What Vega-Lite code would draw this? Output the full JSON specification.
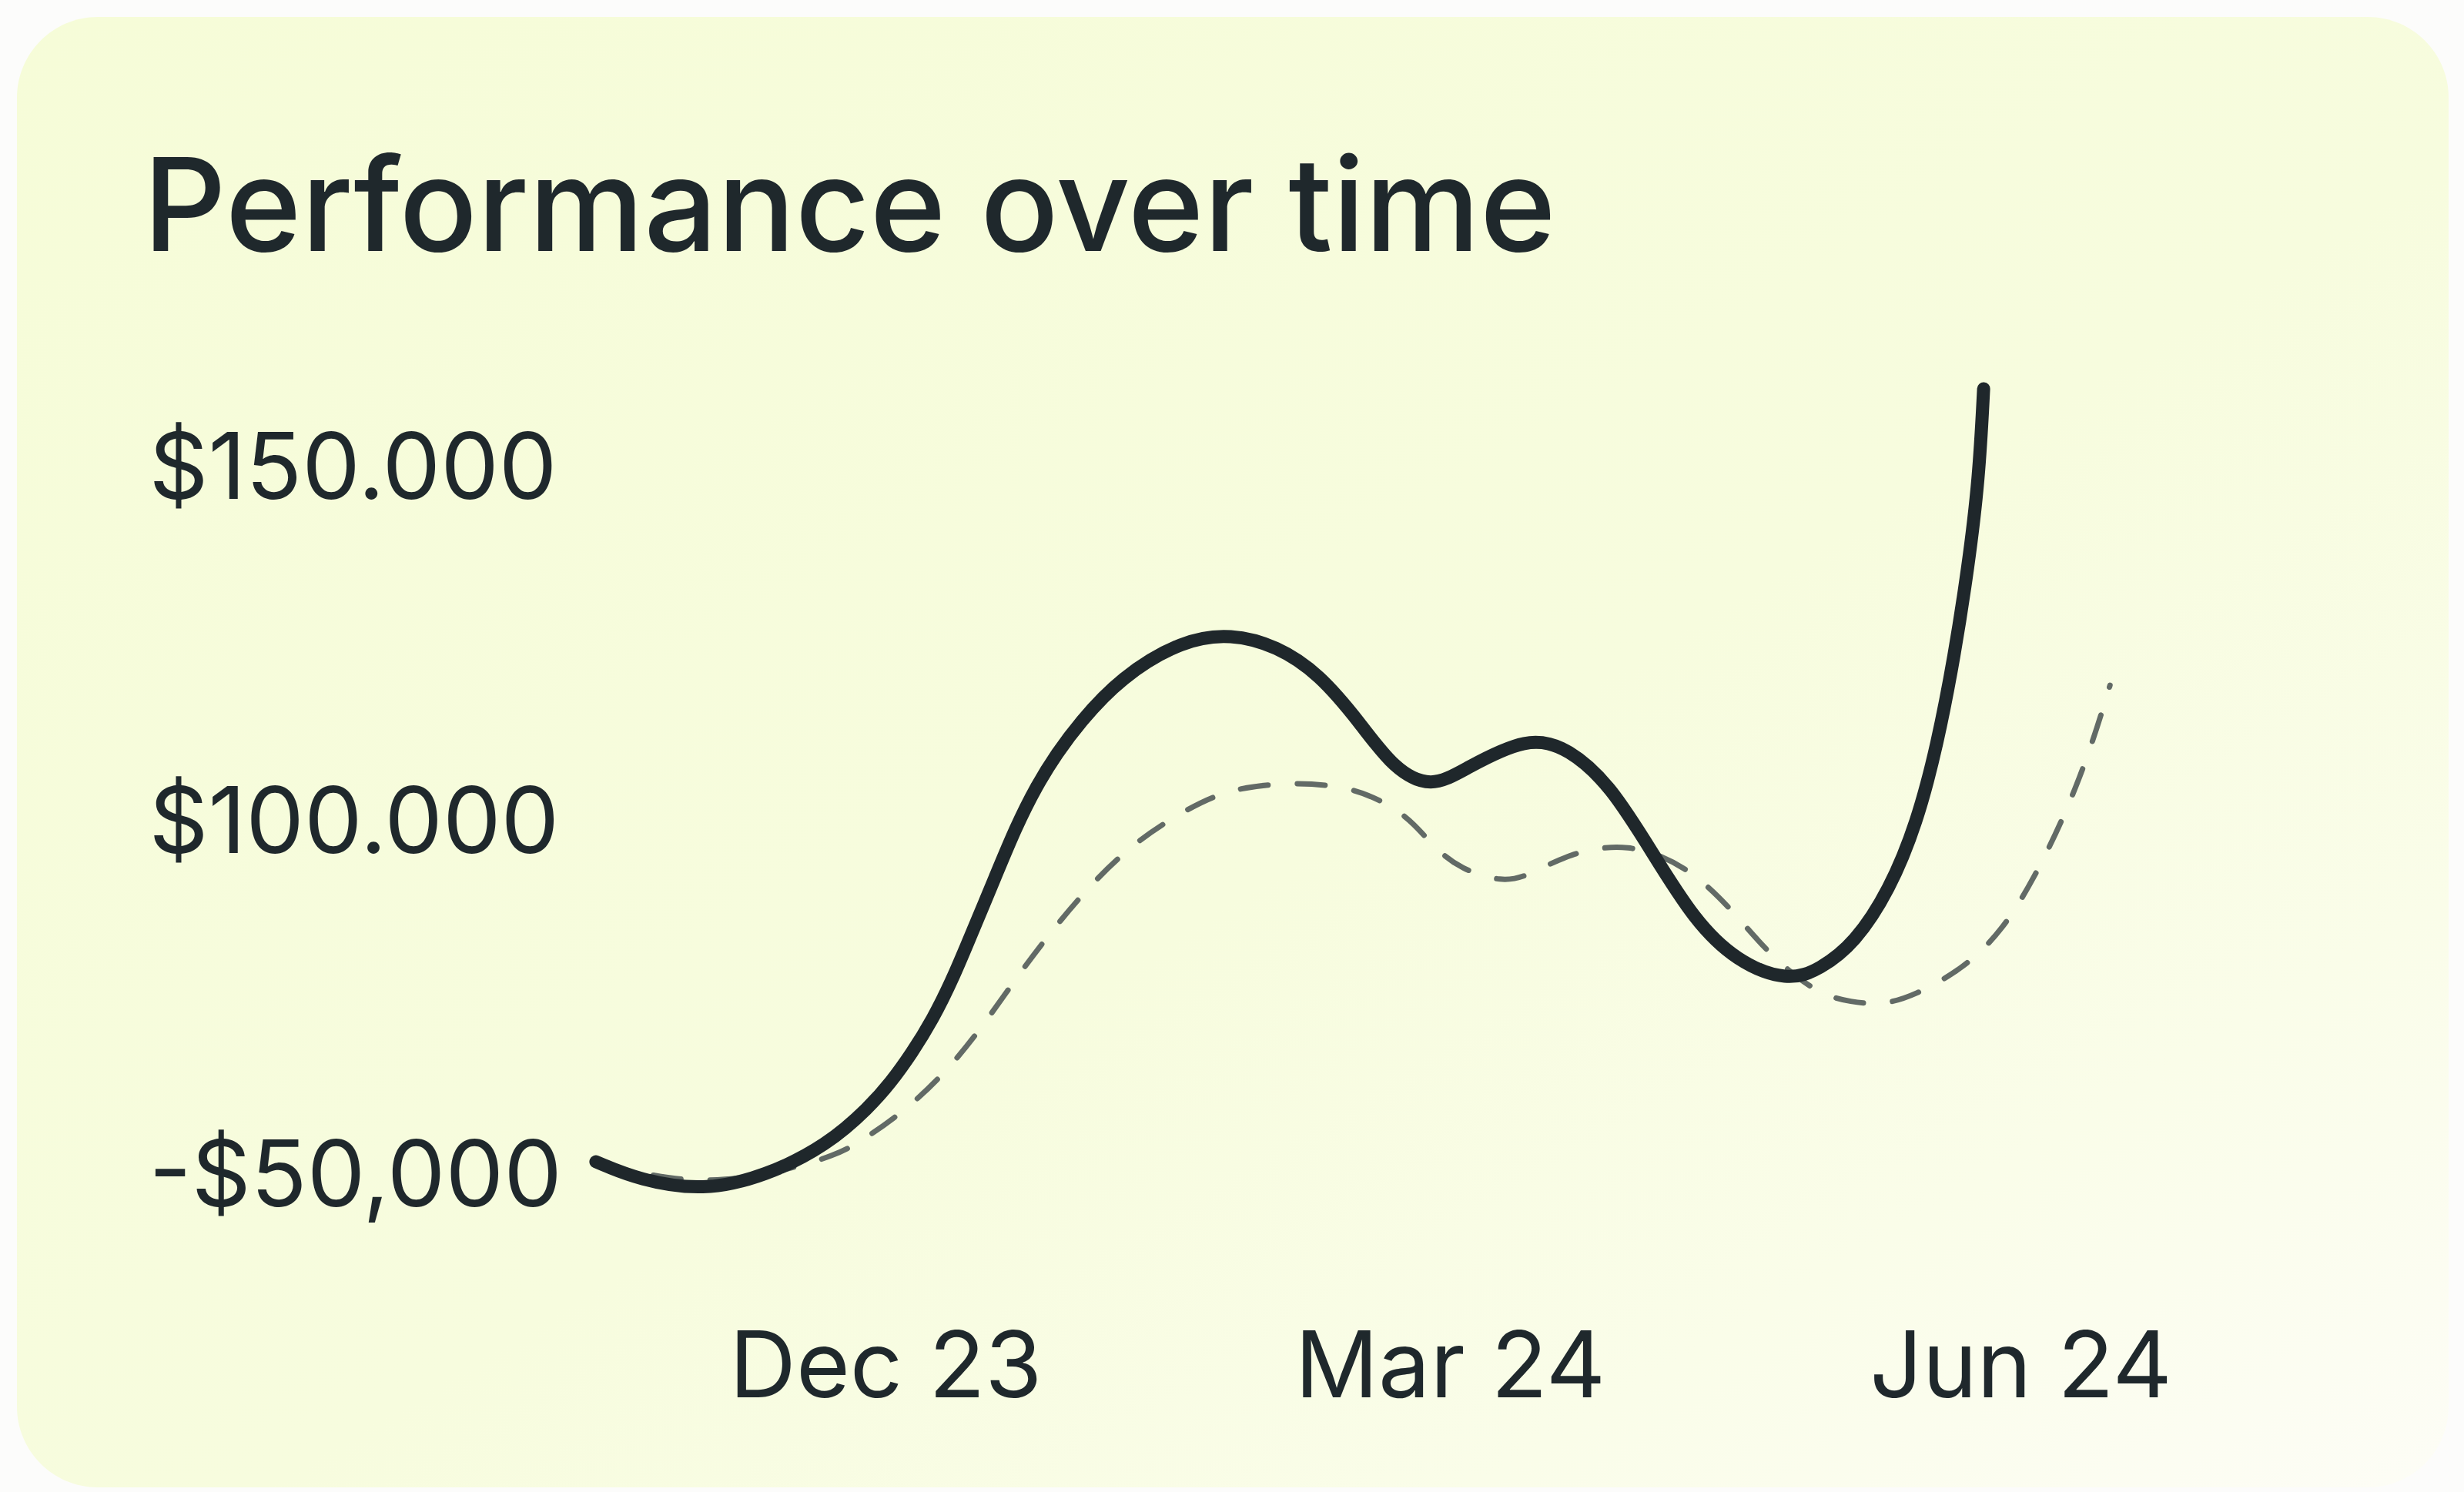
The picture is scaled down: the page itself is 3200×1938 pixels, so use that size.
{
  "$schema": "https://vega.github.io/schema/vega-lite/v6.json",
  "width": 3158,
  "height": 1910,
  "autosize": {"type": "none"},
  "padding": {"left": 22, "top": 22, "right": 20, "bottom": 6},
  "background": "#FCFCFB",
  "title": {
    "text": "Performance over time",
    "anchor": "start",
    "frame": "group",
    "font": "Inter",
    "fontSize": 168,
    "fontWeight": 500,
    "color": "#1F282C",
    "baseline": "alphabetic",
    "offset": -472,
    "dx": 164,
    "limit": 0
  },
  "config": {
    "view": {
      "fill": {
        "gradient": "linear",
        "x1": 0, "y1": 0, "x2": 1, "y2": 1,
        "stops": [
          {"offset": 0, "color": "#F6FCD8"},
          {"offset": 0.55, "color": "#F7FCDE"},
          {"offset": 0.8, "color": "#FAFDE9"},
          {"offset": 1, "color": "#FDFDF6"}
        ]
      },
      "stroke": null,
      "cornerRadius": 105
    },
    "axis": {
      "grid": false,
      "domain": false,
      "ticks": false,
      "tickSize": 0,
      "title": null,
      "labelFont": "Inter",
      "labelFontSize": 120,
      "labelColor": "#1F282C",
      "labelLimit": 0,
      "labelOverlap": false
    }
  },
  "data": {
    "values": [
      {"series": "Benchmark", "date": "2023-10-15T14:00:00Z", "value": 51194},
      {"series": "Benchmark", "date": "2023-10-27T21:00:00Z", "value": 48909},
      {"series": "Benchmark", "date": "2023-11-04T23:00:00Z", "value": 48800},
      {"series": "Benchmark", "date": "2023-11-14T00:00:00Z", "value": 50106},
      {"series": "Benchmark", "date": "2023-11-23T02:00:00Z", "value": 52391},
      {"series": "Benchmark", "date": "2023-11-27T19:00:00Z", "value": 54784},
      {"series": "Benchmark", "date": "2023-12-05T06:00:00Z", "value": 59462},
      {"series": "Benchmark", "date": "2023-12-11T23:00:00Z", "value": 65337},
      {"series": "Benchmark", "date": "2023-12-17T16:00:00Z", "value": 71865},
      {"series": "Benchmark", "date": "2023-12-23T00:00:00Z", "value": 78611},
      {"series": "Benchmark", "date": "2023-12-28T17:00:00Z", "value": 85138},
      {"series": "Benchmark", "date": "2024-01-03T19:00:00Z", "value": 91340},
      {"series": "Benchmark", "date": "2024-01-10T12:00:00Z", "value": 96888},
      {"series": "Benchmark", "date": "2024-01-18T13:00:00Z", "value": 101349},
      {"series": "Benchmark", "date": "2024-01-25T15:00:00Z", "value": 104286},
      {"series": "Benchmark", "date": "2024-02-04T05:00:00Z", "value": 105157},
      {"series": "Benchmark", "date": "2024-02-13T15:00:00Z", "value": 104613},
      {"series": "Benchmark", "date": "2024-02-20T08:00:00Z", "value": 102002},
      {"series": "Benchmark", "date": "2024-02-24T07:00:00Z", "value": 99282},
      {"series": "Benchmark", "date": "2024-02-27T15:00:00Z", "value": 95800},
      {"series": "Benchmark", "date": "2024-03-02T18:00:00Z", "value": 92863},
      {"series": "Benchmark", "date": "2024-03-09T11:00:00Z", "value": 91013},
      {"series": "Benchmark", "date": "2024-03-13T13:00:00Z", "value": 91884},
      {"series": "Benchmark", "date": "2024-03-20T06:00:00Z", "value": 95148},
      {"series": "Benchmark", "date": "2024-03-29T17:00:00Z", "value": 96671},
      {"series": "Benchmark", "date": "2024-04-08T03:00:00Z", "value": 93407},
      {"series": "Benchmark", "date": "2024-04-15T11:00:00Z", "value": 87205},
      {"series": "Benchmark", "date": "2024-04-21T13:00:00Z", "value": 80678},
      {"series": "Benchmark", "date": "2024-04-29T05:00:00Z", "value": 75238},
      {"series": "Benchmark", "date": "2024-05-04T17:00:00Z", "value": 74041},
      {"series": "Benchmark", "date": "2024-05-09T19:00:00Z", "value": 73715},
      {"series": "Benchmark", "date": "2024-05-14T18:00:00Z", "value": 74911},
      {"series": "Benchmark", "date": "2024-05-23T01:00:00Z", "value": 78937},
      {"series": "Benchmark", "date": "2024-05-29T03:00:00Z", "value": 84268},
      {"series": "Benchmark", "date": "2024-06-03T03:00:00Z", "value": 91448},
      {"series": "Benchmark", "date": "2024-06-08T08:00:00Z", "value": 100805},
      {"series": "Benchmark", "date": "2024-06-12T13:00:00Z", "value": 110488},
      {"series": "Benchmark", "date": "2024-06-15T10:00:00Z", "value": 118865},
      {"series": "Portfolio", "date": "2023-10-15T08:00:00Z", "value": 51520},
      {"series": "Portfolio", "date": "2023-10-22T10:00:00Z", "value": 48909},
      {"series": "Portfolio", "date": "2023-11-01T15:00:00Z", "value": 47386},
      {"series": "Portfolio", "date": "2023-11-11T16:00:00Z", "value": 49453},
      {"series": "Portfolio", "date": "2023-11-21T17:00:00Z", "value": 53914},
      {"series": "Portfolio", "date": "2023-11-28T10:00:00Z", "value": 59245},
      {"series": "Portfolio", "date": "2023-12-01T21:00:00Z", "value": 62726},
      {"series": "Portfolio", "date": "2023-12-05T06:00:00Z", "value": 66861},
      {"series": "Portfolio", "date": "2023-12-08T14:00:00Z", "value": 71539},
      {"series": "Portfolio", "date": "2023-12-11T23:00:00Z", "value": 77523},
      {"series": "Portfolio", "date": "2023-12-15T07:00:00Z", "value": 84594},
      {"series": "Portfolio", "date": "2023-12-18T16:00:00Z", "value": 91666},
      {"series": "Portfolio", "date": "2023-12-22T00:00:00Z", "value": 98738},
      {"series": "Portfolio", "date": "2023-12-25T08:00:00Z", "value": 104613},
      {"series": "Portfolio", "date": "2023-12-28T17:00:00Z", "value": 109291},
      {"series": "Portfolio", "date": "2024-01-01T04:00:00Z", "value": 113425},
      {"series": "Portfolio", "date": "2024-01-07T21:00:00Z", "value": 119953},
      {"series": "Portfolio", "date": "2024-01-17T23:00:00Z", "value": 125284},
      {"series": "Portfolio", "date": "2024-01-25T18:00:00Z", "value": 126154},
      {"series": "Portfolio", "date": "2024-02-02T02:00:00Z", "value": 124414},
      {"series": "Portfolio", "date": "2024-02-08T22:00:00Z", "value": 120497},
      {"series": "Portfolio", "date": "2024-02-15T15:00:00Z", "value": 113425},
      {"series": "Portfolio", "date": "2024-02-20T23:00:00Z", "value": 107006},
      {"series": "Portfolio", "date": "2024-02-27T01:00:00Z", "value": 104286},
      {"series": "Portfolio", "date": "2024-03-03T09:00:00Z", "value": 107006},
      {"series": "Portfolio", "date": "2024-03-13T13:00:00Z", "value": 111685},
      {"series": "Portfolio", "date": "2024-03-20T06:00:00Z", "value": 109944},
      {"series": "Portfolio", "date": "2024-03-26T23:00:00Z", "value": 104613},
      {"series": "Portfolio", "date": "2024-04-02T16:00:00Z", "value": 95148},
      {"series": "Portfolio", "date": "2024-04-09T09:00:00Z", "value": 85682},
      {"series": "Portfolio", "date": "2024-04-16T05:00:00Z", "value": 79807},
      {"series": "Portfolio", "date": "2024-04-24T12:00:00Z", "value": 76979},
      {"series": "Portfolio", "date": "2024-04-29T17:00:00Z", "value": 78719},
      {"series": "Portfolio", "date": "2024-05-05T07:00:00Z", "value": 82418},
      {"series": "Portfolio", "date": "2024-05-10T21:00:00Z", "value": 89925},
      {"series": "Portfolio", "date": "2024-05-15T06:00:00Z", "value": 99282},
      {"series": "Portfolio", "date": "2024-05-18T14:00:00Z", "value": 110488},
      {"series": "Portfolio", "date": "2024-05-21T08:00:00Z", "value": 122999},
      {"series": "Portfolio", "date": "2024-05-23T13:00:00Z", "value": 135511},
      {"series": "Portfolio", "date": "2024-05-25T07:00:00Z", "value": 148022},
      {"series": "Portfolio", "date": "2024-05-26T01:00:00Z", "value": 160752}
    ]
  },
  "encoding": {
    "x": {
      "field": "date",
      "type": "temporal",
      "scale": {
        "type": "utc",
        "domain": [
          {"year": 2023, "month": 7, "date": 14, "utc": true},
          {"year": 2024, "month": 8, "date": 9, "utc": true}
        ]
      },
      "axis": {
        "values": [
          {"year": 2023, "month": 12, "date": 1, "utc": true},
          {"year": 2024, "month": 3, "date": 1, "utc": true},
          {"year": 2024, "month": 6, "date": 1, "utc": true}
        ],
        "labelExpr": "utcFormat(datum.value, '%b %y')",
        "labelBaseline": "alphabetic",
        "labelPadding": -118,
        "labelAlign": "center"
      }
    },
    "y": {
      "field": "value",
      "type": "quantitative",
      "scale": {"domain": [5500, 213300], "nice": false, "zero": false},
      "axis": {
        "values": [50000, 100000, 150000],
        "labelExpr": "datum.value == 50000 ? '-$50,000' : datum.value == 100000 ? '$100.000' : '$150.000'",
        "labelAlign": "left",
        "labelBaseline": "alphabetic",
        "labelOffset": 44,
        "labelPadding": -171
      }
    }
  },
  "layer": [
    {
      "transform": [{"filter": "datum.series == 'Benchmark'"}],
      "mark": {
        "type": "line",
        "interpolate": "basis",
        "color": "#626A66",
        "strokeWidth": 7,
        "strokeDash": [36, 38],
        "strokeCap": "round"
      }
    },
    {
      "transform": [{"filter": "datum.series == 'Portfolio'"}],
      "mark": {
        "type": "line",
        "interpolate": "basis",
        "color": "#1F272B",
        "strokeWidth": 17,
        "strokeCap": "round"
      }
    }
  ]
}
